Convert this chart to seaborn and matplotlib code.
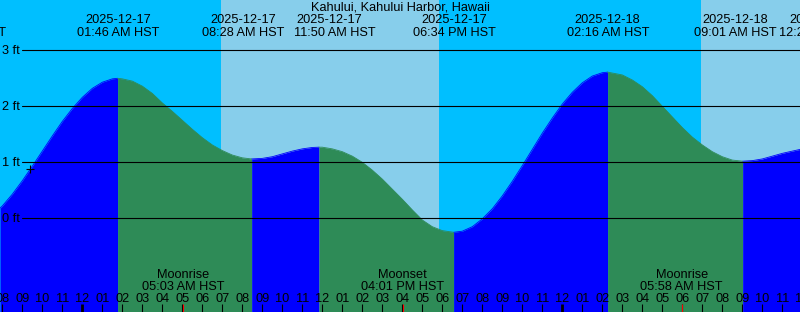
import numpy as np
import pandas as pd
import matplotlib
matplotlib.use("Agg")
import matplotlib.pyplot as plt
import seaborn as sns
from matplotlib.transforms import blended_transform_factory

# ---------------- data (hours relative to 2025-12-17 00:00 HST, levels in ft) -------------
title = "Kahului, Kahului Harbor, Hawaii"

tide_hours = [-4.115, -4, -3.5, -3, -2.5, -2, -1.5, -1, -0.5, 0, 0.5, 1, 1.5, 1.767,
              2, 2.5, 3, 3.5, 4, 4.5, 5, 5.5, 6, 6.5, 7, 7.5, 8, 8.467,
              9, 9.5, 10, 10.5, 11, 11.5, 11.833,
              12, 12.5, 13, 13.5, 14, 14.5, 15, 15.5, 16, 16.5, 17, 17.5, 18, 18.567,
              19, 19.5, 20, 20.5, 21, 21.5, 22, 22.5, 23, 23.5, 24, 24.5, 25, 25.5, 26, 26.267,
              27, 27.5, 28, 28.5, 29, 29.5, 30, 30.5, 31, 31.5, 32, 32.5, 33.017,
              33.5, 34, 34.5, 35, 35.5, 35.885]
tide_levels = [0.18, 0.22, 0.43, 0.67, 0.93, 1.20, 1.47, 1.73, 1.96, 2.16, 2.32, 2.43, 2.49, 2.50,
               2.49, 2.45, 2.36, 2.23, 2.06, 1.91, 1.75, 1.59, 1.44, 1.31, 1.21, 1.13, 1.08, 1.06,
               1.07, 1.10, 1.15, 1.20, 1.24, 1.265, 1.27,
               1.27, 1.24, 1.19, 1.11, 1.00, 0.86, 0.70, 0.52, 0.34, 0.15, -0.03, -0.15, -0.22, -0.25,
               -0.23, -0.15, -0.01, 0.17, 0.40, 0.66, 0.94, 1.23, 1.52, 1.79, 2.04, 2.25, 2.42, 2.54, 2.60, 2.61,
               2.56, 2.47, 2.35, 2.19, 2.00, 1.81, 1.62, 1.45, 1.31, 1.19, 1.10, 1.04, 1.02,
               1.03, 1.06, 1.11, 1.16, 1.20, 1.23]

# tide extremes: time, kind, date label, time label
extreme_hours = [-5.89, 1.767, 8.467, 11.833, 18.567, 26.267, 33.017, 36.42]
extreme_kind = ["low", "high", "low", "high", "low", "high", "low", "high"]
extreme_dates = ["2025-12-16", "2025-12-17", "2025-12-17", "2025-12-17",
                 "2025-12-17", "2025-12-18", "2025-12-18", "2025-12-18"]
extreme_times = ["06:07 PM HST", "01:46 AM HST", "08:28 AM HST", "11:50 AM HST",
                 "06:34 PM HST", "02:16 AM HST", "09:01 AM HST", "12:25 PM HST"]

# moon events
moon_hours = [5.05, 16.017, 29.967]
moon_names = ["Moonrise", "Moonset", "Moonrise"]
moon_times = ["05:03 AM HST", "04:01 PM HST", "05:58 AM HST"]

# daylight intervals (sunrise, sunset)
day_start = [6.935, 30.935]
day_end = [17.835, 41.8]

# current time marker
now_hour = -2.615
now_level = 0.875

grid_levels = [0, 1, 2, 3]
tick_hours = list(range(-4, 37))

# ---------------- layout / style -------------
W, H = 800, 312
X0, PXH = 82.3, 20.0          # x pixel of midnight, pixels per hour
Y0, PXF = 218.3, 56.0         # y pixel of 0 ft, pixels per ft
NIGHT, DAY = "#00BFFF", "#87CEEB"
RISE, FALL = "#0000FF", "#2E8B57"
FS = 9.2
TXT = dict(fontsize=FS, color="black", zorder=5)

sns.set_theme(style="white")
plt.rcParams["font.family"] = ["Liberation Sans", "DejaVu Sans"]

fig = plt.figure(figsize=(W / 100, H / 100), dpi=100)
ax = fig.add_axes([0, 0, 1, 1])
xmin, xmax = (0 - X0) / PXH, (W - X0) / PXH
ymax, ymin = (Y0 - 0) / PXF, (Y0 - H) / PXF

# background
ax.axvspan(xmin, xmax, color=NIGHT, lw=0, zorder=0)
for s, e in zip(day_start, day_end):
    ax.axvspan(s, e, color=DAY, lw=0, zorder=0.5)

# tide fill by phase
df = pd.DataFrame({"hours": tide_hours, "level": tide_levels})
rows = []
for i in range(len(extreme_hours) - 1):
    a, b = extreme_hours[i], extreme_hours[i + 1]
    seg = df[(df.hours >= a) & (df.hours <= b)].copy()
    if len(seg) < 2:
        continue
    phase = "rising" if extreme_kind[i + 1] == "high" else "falling"
    seg["phase"] = phase
    seg["segment"] = i
    rows.append(seg)
    ax.fill_between(seg.hours, seg.level, ymin - 1, color=RISE if phase == "rising" else FALL,
                    lw=0, zorder=1)
segs = pd.concat(rows)
sns.lineplot(data=segs, x="hours", y="level", hue="phase", units="segment", estimator=None,
             palette={"rising": RISE, "falling": FALL}, legend=False, lw=0.6, ax=ax, zorder=1.5,
             sort=False)
ax.set_xlim(xmin, xmax)
ax.set_ylim(ymin, ymax)
ax.axis("off")

# grid lines and y labels
for lv in grid_levels:
    ax.axhline(lv, xmin=22 / W, xmax=1, color="black", lw=0.8, zorder=2)
    ax.annotate(f"{lv} ft", xy=(0, lv), xycoords=blended_transform_factory(ax.transAxes, ax.transData),
                xytext=(2.5 * 0.72, -4.0 * 0.72), textcoords="offset points",
                ha="left", va="baseline", **TXT)

# now marker
ax.plot([now_hour], [now_level], marker="+", ms=5.6, mew=0.8, color="black", zorder=3)

bt = blended_transform_factory(ax.transData, ax.transAxes)

def yax(px):
    return 1 - px / H

# title
ax.text(0.5, yax(11), title, transform=ax.transAxes, ha="center", va="baseline", **TXT)

# extreme labels (nudges in px keep the labels apart like the reference)
date_nudge = [0, 1, -8, 10, 1, 0, -7, 11]
time_nudge = [0, 1, -8, 16, 1, 1, -7, 10]
for h, d, t, dn, tn in zip(extreme_hours, extreme_dates, extreme_times, date_nudge, time_nudge):
    ax.text(h + dn / PXH, yax(23.3), d, transform=bt, ha="center", va="baseline", **TXT)
    ax.text(h + tn / PXH, yax(36), t, transform=bt, ha="center", va="baseline", **TXT)

# moon labels
for h, n, t in zip(moon_hours, moon_names, moon_times):
    ax.text(h, yax(278.3), n, transform=bt, ha="center", va="baseline", **TXT)
    ax.text(h, yax(290), t, transform=bt, ha="center", va="baseline", **TXT)
    ax.plot([h, h], [0, 8 / H], transform=bt, color="red", lw=0.8, zorder=6, solid_capstyle="butt")

# hour ticks and labels
for h in tick_hours:
    hh = h % 24
    lab = f"{(hh % 12) or 12:02d}"
    ax.text(h, yax(301.7), lab, transform=bt, ha="center", va="baseline", **TXT)
    lw = 2.0 if hh == 0 else 0.8
    ax.plot([h, h], [0, 8 / H], transform=bt, color="black", lw=lw, zorder=5, solid_capstyle="butt")

fig.savefig("out.png", dpi=100)
